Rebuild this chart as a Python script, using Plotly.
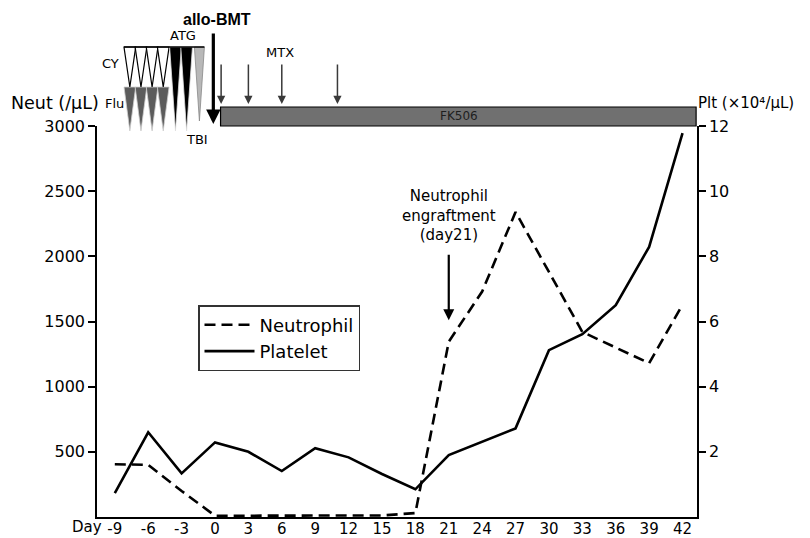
import plotly.graph_objects as go

# ---------------- data ----------------
days = [-9, -6, -3, 0, 3, 6, 9, 12, 15, 18, 21, 24, 27, 30, 33, 36, 39, 42]
neutrophil = [405, 400, 200, 10, 10, 10, 10, 10, 12, 30, 1345, 1730, 2340, 1880, 1420, 1300, 1180, 1630]
platelet = [0.73, 2.6, 1.34, 2.29, 2.0, 1.41, 2.11, 1.83, 1.32, 0.85, 1.9, 2.31, 2.72, 5.12, 5.61, 6.5, 8.29, 11.78]
x_tick_labels = ["-9", "-6", "-3", "0", "3", "6", "9", "12", "15", "18", "21", "24", "27", "30", "33", "36", "39", "42"]
neut_ticks = [500, 1000, 1500, 2000, 2500, 3000]
plt_ticks = [2, 4, 6, 8, 10, 12]

cy_days = [-8, -7, -6, -5]
flu_days = [-8, -7, -6, -5]
atg_days = [-4, -3]
gray_days = [-2]
bmt_day = 0
mtx_days = [1, 3, 6, 11]
fk506_start = 0.5
engraft_day = 21

# ---------------- layout geometry ----------------
OFF = 8                      # page body margin of the browser
W, H = 810 - OFF, 538 - OFF
L, T, PW, PH = 97, 126, 600, 391   # plot area in reference pixels
X0, X1 = -10.6, 43.3
FONT = "DejaVu Sans"


def py(p):
    """reference pixel row -> paper y"""
    return (T + PH - p) / PH


def pxp(p):
    """reference pixel col -> paper x"""
    return (p - L) / PW


fig = go.Figure()
fig.add_trace(go.Scatter(
    x=days, y=neutrophil, name="Neutrophil", mode="lines",
    line=dict(color="black", width=2.6, dash="11px,6px"),
))
fig.add_trace(go.Scatter(
    x=days, y=platelet, name="Platelet", mode="lines", yaxis="y2",
    line=dict(color="black", width=2.6),
))

shapes = []
annotations = []


def tri(center, width, top, tip, fill, line, lw=1):
    a, b = center - width / 2, center + width / 2
    return dict(type="path", xref="x", yref="paper",
                path=f"M {a},{py(top)} L {b},{py(top)} L {center},{py(tip)} Z",
                fillcolor=fill, line=dict(color=line, width=lw), layer="above")


def label(text, xpix, ypix, size=13, xanchor="center", family=FONT, color="black"):
    return dict(xref="paper", yref="paper", x=pxp(xpix), y=py(ypix), text=text,
                xanchor=xanchor, yanchor="middle", showarrow=False,
                font=dict(family=family, size=size, color=color))


for d in flu_days:
    shapes.append(tri(d + 0.35, 1.05, 87, 131, "#5c5c5c", "#d0d0d0", 0.8))
for d in cy_days:
    shapes.append(tri(d + 0.35, 1.05, 47, 87, "white", "black", 1.2))
for d in atg_days:
    shapes.append(tri(d + 0.45, 1.05, 47, 131, "black", "#e0e0e0", 0.8))
for d in gray_days:
    shapes.append(tri(d + 0.6, 0.9, 47, 121, "#b8b8b8", "#888888", 0.8))

# top frame line over the conditioning triangles
shapes.append(dict(type="line", xref="x", yref="paper",
                   x0=cy_days[0] + 0.35 - 0.525, x1=gray_days[0] + 0.6 + 0.45,
                   y0=py(47), y1=py(47), line=dict(color="black", width=1.5)))

# FK506 bar
shapes.append(dict(type="rect", xref="x", yref="paper",
                   x0=fk506_start, x1=X1 - 0.08, y0=py(126), y1=py(107),
                   fillcolor="#707070", line=dict(color="black", width=1.2)))
annotations.append(dict(xref="x", yref="paper", x=(fk506_start + X1) / 2, y=py(116.5),
                        xanchor="center", yanchor="middle",
                        text="FK506", showarrow=False,
                        font=dict(family=FONT, size=12, color="#1e1e1e")))

# allo-BMT arrow
annotations.append(dict(xref="x", yref="paper", x=bmt_day - 0.15, y=py(124), ax=0, ay=-92,
                        text="", showarrow=True, arrowhead=2, arrowsize=0.9,
                        arrowwidth=3.2, arrowcolor="black"))
annotations.append(dict(xref="x", yref="paper", x=bmt_day + 0.2, y=py(19), text="<b>allo-BMT</b>",
                        xanchor="center", yanchor="middle", showarrow=False,
                        font=dict(family="Liberation Sans", size=16, color="black")))

# MTX arrows
for d in mtx_days:
    xd = d if d != 1 else 0.55
    annotations.append(dict(xref="x", yref="paper", x=xd, y=py(104), ax=0, ay=-41,
                            text="", showarrow=True, arrowhead=2, arrowsize=1.1,
                            arrowwidth=1.5, arrowcolor="#3a3a3a"))

# labels of conditioning and drugs
annotations += [
    label("MTX", 280, 52),
    label("CY", 121, 63, xanchor="right"),
    label("Flu", 103, 104, xanchor="left"),
    label("ATG", 183, 35),
    label("TBI", 197, 140),
    label("Neut (/μL)", 101, 103, size=17.5, xanchor="right"),
    label("Plt (×10⁴/μL)", 696, 103, size=15, xanchor="left"),
]
annotations.append(dict(xref="x", yref="paper", x=days[0], xshift=-11, y=py(527), text="Day",
                        xanchor="right", yanchor="middle", showarrow=False,
                        font=dict(family=FONT, size=15, color="black")))

# neutrophil engraftment
annotations.append(dict(xref="x", yref="y", x=engraft_day, y=1510, ax=0, ay=-67,
                        text="", showarrow=True, arrowhead=2, arrowsize=1,
                        arrowwidth=2.2, arrowcolor="black"))
annotations.append(dict(xref="x", yref="paper", x=engraft_day, y=py(215),
                        xanchor="center", yanchor="middle",
                        text="Neutrophil<br>engraftment<br>(day21)", showarrow=False, align="center",
                        font=dict(family=FONT, size=15, color="black")))

fig.update_layout(
    width=W, height=H,
    margin=dict(l=L - OFF, r=W - (L - OFF) - PW, t=T - OFF, b=H - (T - OFF) - PH,
                pad=0, autoexpand=False),
    paper_bgcolor="white", plot_bgcolor="white",
    font=dict(family=FONT, size=15, color="black"),
    showlegend=True,
    legend=dict(x=pxp(198), y=py(305), xanchor="left", yanchor="top",
                bordercolor="#333333", borderwidth=1.5, bgcolor="white",
                font=dict(family=FONT, size=18, color="black"),
                tracegroupgap=2, itemwidth=50),
    xaxis=dict(range=[X0, X1], tickvals=days, ticktext=x_tick_labels, showgrid=False,
               zeroline=False, showline=True, linecolor="black", linewidth=1.5,
               ticks="", tickfont=dict(family=FONT, size=15), automargin=False,
               ticklabelstandoff=-3),
    yaxis=dict(range=[0, 3000], tickvals=neut_ticks, showgrid=False, zeroline=False,
               showline=True, linecolor="black", linewidth=1.5, ticks="outside",
               ticklen=7, tickwidth=1.5, tickcolor="black", tickfont=dict(family=FONT, size=16),
               automargin=False),
    yaxis2=dict(range=[0, 12], tickvals=plt_ticks, overlaying="y", side="right", showgrid=False,
                zeroline=False, showline=True, linecolor="black", linewidth=1.5, ticks="outside",
                ticklen=7, tickwidth=1.5, tickcolor="black", tickfont=dict(family=FONT, size=16),
                automargin=False),
    shapes=shapes,
    annotations=annotations,
)

fig.write_html("out.html")
